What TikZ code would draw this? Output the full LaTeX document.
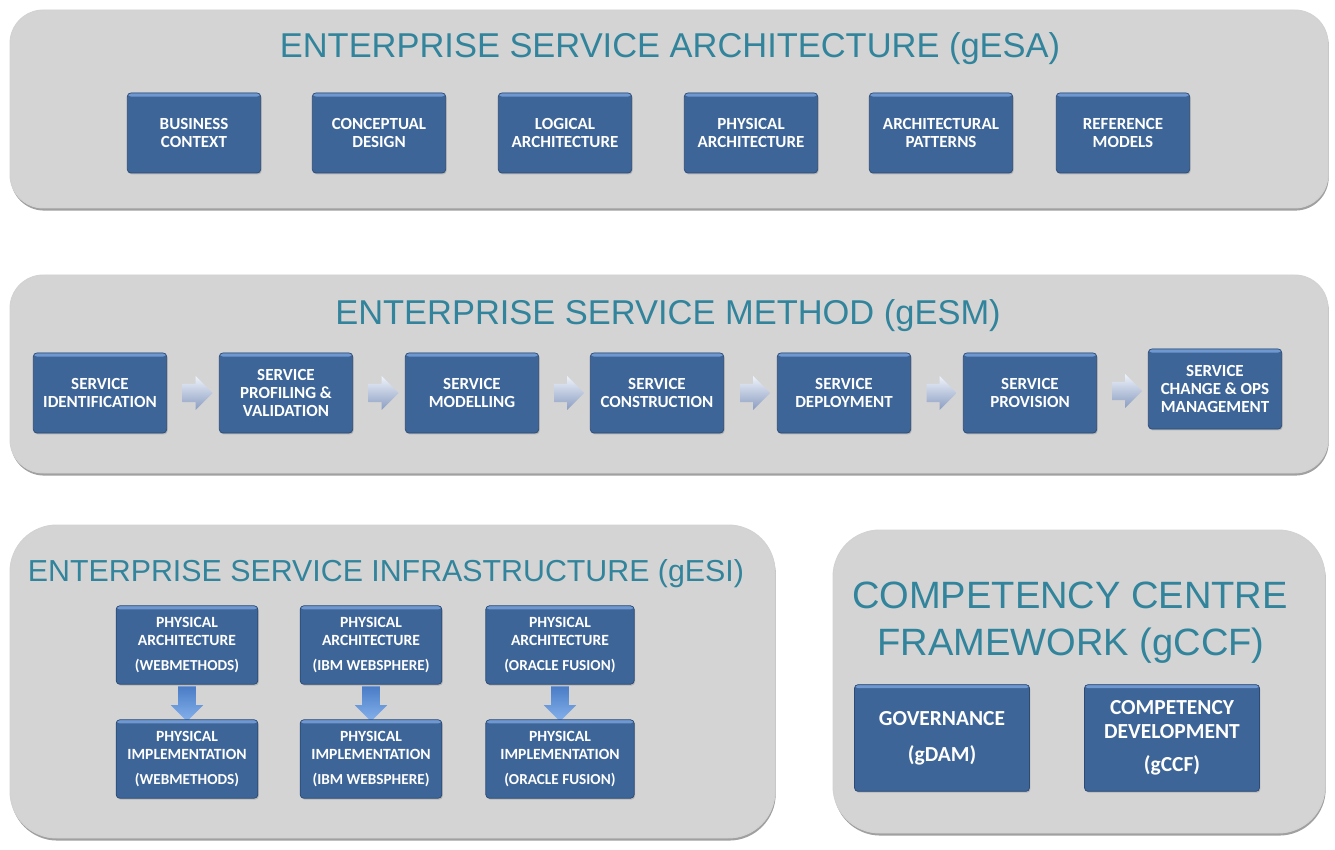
\documentclass[tikz,border=0pt]{standalone}
\usepackage{fontspec}
\setmainfont{Carlito}
\newfontfamily\headfont{Liberation Sans}
\usetikzlibrary{shapes.arrows,shadows,positioning}
\definecolor{panelfill}{HTML}{D4D4D4}
\definecolor{panelrim}{HTML}{A0A0A0}
\definecolor{titleteal}{HTML}{31849B}
\definecolor{boxblue}{HTML}{3D6598}
\definecolor{boxedge}{HTML}{2B4A75}
\definecolor{boxtop}{HTML}{7098D0}
\definecolor{arrowpale}{HTML}{EEF3FB}
\definecolor{arrowgrey}{HTML}{8A9CC0}
\definecolor{arrowblue}{HTML}{86B2EC}
\definecolor{arrowdeep}{HTML}{4A7CC6}
\tikzset{
  panel/.style={fill=panelfill, draw=gray!35, line width=0.8pt,
    drop shadow={shadow xshift=0.6pt, shadow yshift=-2.2pt, fill=panelrim, opacity=1}},
  heading/.style={text=titleteal, anchor=base, inner sep=0pt,
    font=\headfont\fontsize{29.4}{34}\selectfont},
  blk/.style={rounded corners=3pt, fill=boxblue, draw=boxedge, line width=0.6pt,
    text=white, align=center, inner sep=1pt,
    font=\bfseries\fontsize{14.5}{15}\selectfont,
    minimum width=4cm, minimum height=2.4cm,
    drop shadow={shadow xshift=0.8pt, shadow yshift=-1.2pt, opacity=0.35},
    path picture={\fill[boxtop] (path picture bounding box.north west)
      rectangle ([yshift=-3pt]path picture bounding box.north east);}},
  infblk/.style={blk, font=\bfseries\fontsize{13.3}{15.4}\selectfont,
    minimum width=4.25cm, minimum height=2.35cm},
  ccfblk/.style={blk, font=\bfseries\fontsize{18.3}{20.5}\selectfont,
    minimum width=5.25cm, minimum height=3.2cm},
  rarrow/.style={single arrow, draw=none, inner xsep=0pt, inner ysep=0.27cm,
    minimum height=0.9cm, single arrow head extend=0.23cm,
    top color=arrowpale, bottom color=arrowgrey},
  darrow/.style={single arrow, rotate=-90, draw=none, inner xsep=0pt, inner ysep=0.26cm,
    minimum height=1.05cm, single arrow head extend=0.22cm,
    top color=arrowdeep, bottom color=arrowblue}
}
\newcommand\thirdline[1]{\\[6pt]{\fontsize{13}{14}\selectfont #1}}

\begin{document}
\begin{tikzpicture}[x=0.03cm,y=-0.03cm]
\useasboundingbox (0,0) rectangle (1335,850);

% the four panels
\draw[panel, rounded corners=1cm] (10,10) rectangle (1328,208);
\draw[panel, rounded corners=1cm] (10,275) rectangle (1328,473);
\draw[panel, rounded corners=1.4cm] (10,525) rectangle (775,838);
\draw[panel, rounded corners=1.4cm] (833,530) rectangle (1325,833);

% architecture
\node[heading] (esa) at (670,58) {ENTERPRISE SERVICE ARCHITECTURE (gESA)};
\node[blk] (a1) at (194,133) {BUSINESS\\CONTEXT};
\node[blk] (a2) at (379,133) {CONCEPTUAL\\DESIGN};
\node[blk] (a3) at (565,133) {LOGICAL\\ARCHITECTURE};
\node[blk] (a4) at (751,133) {PHYSICAL\\ARCHITECTURE};
\node[blk, minimum width=4.3cm] (a5) at (941,133) {ARCHITECTURAL\\PATTERNS};
\node[blk] (a6) at (1123,133) {REFERENCE\\MODELS};

% method
\node[heading] (esm) at (668,325) {ENTERPRISE SERVICE METHOD (gESM)};
\node[blk] (m1) at (100,393) {SERVICE\\IDENTIFICATION};
\node[blk] (m2) at (286,393) {SERVICE\\PROFILING \&\\VALIDATION};
\node[blk] (m3) at (472,393) {SERVICE\\MODELLING};
\node[blk] (m4) at (657,393) {SERVICE\\CONSTRUCTION};
\node[blk] (m5) at (844,393) {SERVICE\\DEPLOYMENT};
\node[blk] (m6) at (1030,393) {SERVICE\\PROVISION};
\node[blk] (m7) at (1215,389) {SERVICE\\CHANGE \& OPS\\MANAGEMENT};
\foreach \i/\j in {1/2,2/3,3/4,4/5,5/6,6/7}
  \path (m\i.east) -- (m\j.west) node[rarrow, midway] (r\i) {};

% infrastructure
\node[heading, font=\headfont\fontsize{25.9}{30}\selectfont] (esi) at (386,581)
  {ENTERPRISE SERVICE INFRASTRUCTURE (gESI)};
\node[infblk] (p1) at (187,645) {PHYSICAL\\ARCHITECTURE\thirdline{(WEBMETHODS)}};
\node[infblk] (p2) at (371,645) {PHYSICAL\\ARCHITECTURE\thirdline{(IBM WEBSPHERE)}};
\node[infblk, minimum width=4.45cm] (p3) at (560,645) {PHYSICAL\\ARCHITECTURE\thirdline{(ORACLE FUSION)}};
\foreach \k in {1,2,3}
  \path (p\k.south) -- ++(0,30) node[darrow, midway] (d\k) {};
\node[infblk] (q1) at (187,759) {PHYSICAL\\IMPLEMENTATION\thirdline{(WEBMETHODS)}};
\node[infblk] (q2) at (371,759) {PHYSICAL\\IMPLEMENTATION\thirdline{(IBM WEBSPHERE)}};
\node[infblk, minimum width=4.45cm] (q3) at (560,759) {PHYSICAL\\IMPLEMENTATION\thirdline{(ORACLE FUSION)}};

% competency centre
\node[heading, font=\headfont\fontsize{32.5}{40}\selectfont] (ccf1) at (1070,608) {COMPETENCY CENTRE};
\node[heading, font=\headfont\fontsize{32.5}{40}\selectfont] (ccf2) at (1071,655) {FRAMEWORK (gCCF)};
\node[ccfblk] (g1) at (942,738) {GOVERNANCE\\[10pt](gDAM)};
\node[ccfblk] (g2) at (1172,738) {COMPETENCY\\DEVELOPMENT\\[8pt](gCCF)};
\end{tikzpicture}
\end{document}
